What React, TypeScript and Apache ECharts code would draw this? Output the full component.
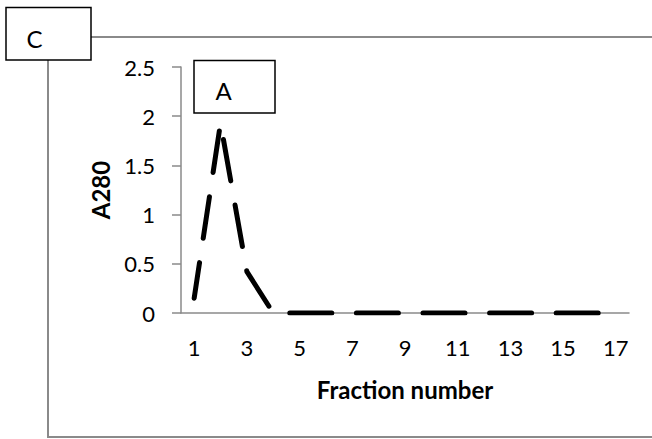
import React, { useEffect, useRef } from "react";
import * as echarts from "echarts";

const categories = ["1","2","3","4","5","6","7","8","9","10","11","12","13","14","15","16","17"];
const a280Values = [0.15, 1.93, 0.42, 0, 0, 0, 0, 0, 0, 0, 0, 0, 0, 0, 0, 0, 0];
const yTicks = { min: 0, max: 2.5, interval: 0.5 };
const xAxisTitle = "Fraction number";
const yAxisTitle = "A280";
const panelLabel = "C";
const peakLabel = "A";

const FONT = "Lato, 'Open Sans', sans-serif";

export default function App() {
  const ref = useRef<HTMLDivElement>(null);
  useEffect(() => {
    if (!ref.current) return;
    const chart = echarts.init(ref.current, undefined, { renderer: "svg" });
    chart.setOption({
      animation: false,
      backgroundColor: "#fff",
      textStyle: { fontFamily: FONT },
      grid: { left: 181, right: 23, top: 67, bottom: 126, containLabel: false },
      xAxis: {
        type: "category",
        data: categories,
        boundaryGap: true,
        name: xAxisTitle,
        nameLocation: "middle",
        nameGap: 64,
        nameTextStyle: { fontSize: 24, fontWeight: "bold", color: "#000", fontFamily: FONT },
        axisLine: { lineStyle: { color: "#8a8a8a", width: 1.5 } },
        axisTick: { show: false },
        axisLabel: { interval: 1, fontSize: 22, color: "#000", margin: 23, fontFamily: FONT },
        splitLine: { show: false },
      },
      yAxis: {
        type: "value",
        min: yTicks.min,
        max: yTicks.max,
        interval: yTicks.interval,
        name: yAxisTitle,
        nameLocation: "middle",
        nameGap: 69,
        nameRotate: 90,
        nameTextStyle: { fontSize: 24, fontWeight: "bold", color: "#000", fontFamily: FONT },
        axisLine: { show: true, lineStyle: { color: "#8a8a8a", width: 1.5 } },
        axisTick: { show: true, inside: false, length: 9, lineStyle: { color: "#8a8a8a", width: 1.5 } },
        axisLabel: { fontSize: 22, color: "#000", margin: 26, fontFamily: FONT },
        splitLine: { show: false },
      },
      series: [
        {
          type: "line",
          data: a280Values,
          symbol: "none",
          lineStyle: { color: "#000", width: 5, type: [42, 24.6], cap: "round", join: "round", dashOffset: 5.5 },
        },
      ],
      graphic: [
        {
          type: "rect",
          z: 0,
          shape: { x: 48, y: 37, width: 720, height: 400 },
          style: { fill: "none", stroke: "#8a8a8a", lineWidth: 2 },
        },
        {
          type: "rect",
          z: 10,
          shape: { x: 6, y: 7.5, width: 85, height: 52.5 },
          style: { fill: "#fff", stroke: "#000", lineWidth: 1.5 },
        },
        {
          type: "text",
          z: 11,
          x: 34.5,
          y: 38.5,
          style: { text: panelLabel, fontSize: 24, fontFamily: FONT, fill: "#000", align: "center", verticalAlign: "middle" },
        },
        {
          type: "rect",
          z: 10,
          shape: { x: 194, y: 60.5, width: 81, height: 52.5 },
          style: { fill: "#fff", stroke: "#000", lineWidth: 1.5 },
        },
        {
          type: "text",
          z: 11,
          x: 223.5,
          y: 90.5,
          style: { text: peakLabel, fontSize: 24, fontFamily: FONT, fill: "#000", align: "center", verticalAlign: "middle" },
        },
      ],
    });
    return () => chart.dispose();
  }, []);
  return (
    <div
      ref={ref}
      style={{ position: "fixed", left: 0, top: 0, width: 652, height: 439 }}
    />
  );
}
